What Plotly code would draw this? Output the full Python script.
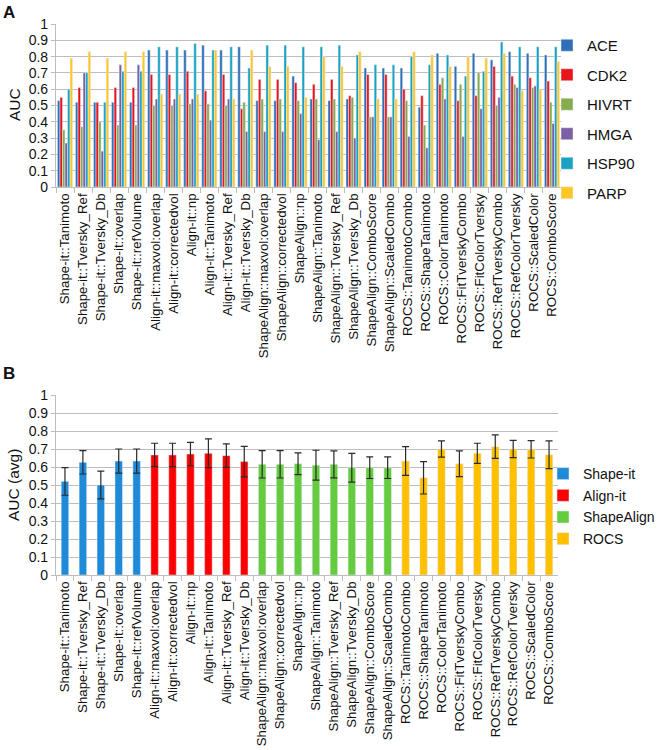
import plotly.graph_objects as go

# Methods grouped by program family
shape_it = ["Shape-it::Tanimoto", "Shape-it::Tversky_Ref", "Shape-it::Tversky_Db",
            "Shape-it::overlap", "Shape-it::refVolume"]
align_it = ["Align-it::maxvol:overlap", "Align-it::correctedvol", "Align-it::np",
            "Align-it::Tanimoto", "Align-it::Tversky_Ref", "Align-it::Tversky_Db"]
shape_align = ["ShapeAlign::maxvol:overlap", "ShapeAlign::correctedvol", "ShapeAlign::np",
               "ShapeAlign::Tanimoto", "ShapeAlign::Tversky_Ref", "ShapeAlign::Tversky_Db",
               "ShapeAlign::ComboScore", "ShapeAlign::ScaledCombo"]
rocs = ["ROCS::TanimotoCombo", "ROCS::ShapeTanimoto", "ROCS::ColorTanimoto",
        "ROCS::FitTverskyCombo", "ROCS::FitColorTversky", "ROCS::RefTverskyCombo",
        "ROCS::RefColorTversky", "ROCS::ScaledColor", "ROCS::ComboScore"]
methods = shape_it + align_it + shape_align + rocs

# Panel A: AUC per target
ace = [0.53, 0.52, 0.52, 0.52, 0.52, 0.84, 0.84, 0.84, 0.87, 0.84, 0.86,
       0.53, 0.53, 0.68, 0.54, 0.53, 0.54, 0.73, 0.73,
       0.73, 0.49, 0.82, 0.74, 0.82, 0.78, 0.83, 0.82, 0.81]
cdk2 = [0.55, 0.61, 0.52, 0.61, 0.61, 0.69, 0.69, 0.71, 0.59, 0.69, 0.48,
        0.66, 0.66, 0.64, 0.63, 0.66, 0.56, 0.69, 0.69,
        0.60, 0.56, 0.63, 0.53, 0.56, 0.74, 0.68, 0.67, 0.65]
hivrt = [0.35, 0.37, 0.40, 0.38, 0.38, 0.50, 0.50, 0.51, 0.51, 0.50, 0.52,
         0.54, 0.54, 0.53, 0.54, 0.54, 0.55, 0.43, 0.43,
         0.53, 0.38, 0.67, 0.63, 0.70, 0.50, 0.63, 0.61, 0.52]
hmga = [0.27, 0.70, 0.22, 0.75, 0.75, 0.54, 0.54, 0.54, 0.41, 0.54, 0.34,
        0.34, 0.34, 0.45, 0.29, 0.34, 0.30, 0.43, 0.43,
        0.31, 0.24, 0.54, 0.31, 0.48, 0.55, 0.61, 0.62, 0.39]
hsp90 = [0.60, 0.70, 0.52, 0.71, 0.71, 0.86, 0.86, 0.88, 0.84, 0.86, 0.73,
         0.87, 0.87, 0.86, 0.86, 0.87, 0.81, 0.75, 0.75,
         0.80, 0.75, 0.81, 0.68, 0.71, 0.89, 0.86, 0.86, 0.86]
parp = [0.79, 0.83, 0.79, 0.83, 0.83, 0.57, 0.57, 0.57, 0.84, 0.54, 0.84,
        0.74, 0.74, 0.55, 0.80, 0.74, 0.83, 0.54, 0.54,
        0.83, 0.81, 0.74, 0.80, 0.79, 0.82, 0.59, 0.60, 0.77]

# Panel B: average AUC and error
avg_auc = [0.52, 0.626, 0.50, 0.633, 0.633,
           0.667, 0.667, 0.672, 0.676, 0.663, 0.63,
           0.615, 0.615, 0.618, 0.61, 0.615, 0.596, 0.596, 0.596,
           0.633, 0.54, 0.70, 0.618, 0.676, 0.713, 0.70, 0.698, 0.668]
avg_err = [0.077, 0.065, 0.077, 0.067, 0.067,
           0.065, 0.065, 0.065, 0.08, 0.065, 0.085,
           0.076, 0.076, 0.06, 0.083, 0.075, 0.08, 0.06, 0.06,
           0.08, 0.09, 0.045, 0.072, 0.056, 0.065, 0.048, 0.048, 0.077]

FONT = "Liberation Sans, Arial, sans-serif"
GRID = "#BDBDBD"

W, H = 659, 750


def px_x(p):
    return p / W


def px_y(p):
    return 1 - p / H


targets = [("ACE", ace, "#2E6FB7"), ("CDK2", cdk2, "#E8161C"),
           ("HIVRT", hivrt, "#86AC4E"), ("HMGA", hmga, "#7D5FA6"),
           ("HSP90", hsp90, "#17A3C1"), ("PARP", parp, "#FFC726")]

families = [("Shape-it", shape_it, "#1F8AD8"), ("Align-it", align_it, "#FF0000"),
            ("ShapeAlign", shape_align, "#66CC3F"), ("ROCS", rocs, "#FFC000")]

fig = go.Figure()

for name, vals, col in targets:
    fig.add_trace(go.Bar(x=methods, y=vals, name=name, marker_color=col,
                         xaxis="x", yaxis="y", legend="legend",
                         legendgroup=name))

start = 0
for name, ms, col in families:
    n = len(ms)
    fig.add_trace(go.Bar(
        x=ms, y=avg_auc[start:start + n], name=name, marker_color=col,
        xaxis="x2", yaxis="y2", legend="legend2", legendgroup=name,
        offsetgroup="avg", width=0.42,
        error_y=dict(type="data", array=avg_err[start:start + n],
                     color="#2a2a2a", thickness=1.2, width=3.5),
    ))
    start += n

xcommon = dict(type="category", categoryorder="array", categoryarray=methods,
               tickangle=-90, tickfont=dict(size=13.3, color="#111"),
               showline=True, linecolor=GRID, linewidth=1.2,
               ticks="outside", tickson="boundaries", tickcolor=GRID, ticklen=5,
               showgrid=False, automargin=False)
ycommon = dict(range=[0, 1], dtick=0.1, tickfont=dict(size=14, color="#111"),
               showgrid=True, gridcolor=GRID, gridwidth=1.2,
               showline=True, linecolor=GRID, linewidth=1.2,
               ticks="outside", tickcolor=GRID, ticklen=4, zeroline=False,
               automargin=False)

fig.update_layout(
    width=W, height=H,
    margin=dict(l=0, r=0, t=0, b=0, autoexpand=False),
    paper_bgcolor="white", plot_bgcolor="white",
    font=dict(family=FONT, color="#111"),
    barmode="group", bargap=0.16, bargroupgap=0,
    xaxis=dict(domain=[px_x(56), px_x(561)], anchor="y", **xcommon),
    yaxis=dict(domain=[px_y(187), px_y(24)], anchor="x", **ycommon),
    xaxis2=dict(domain=[px_x(56), px_x(558)], anchor="y2", **xcommon),
    yaxis2=dict(domain=[px_y(575), px_y(395)], anchor="x2", **ycommon),
    legend=dict(x=px_x(547), y=px_y(29), xanchor="left", yanchor="top",
                font=dict(size=15, color="#111"), traceorder="grouped",
                tracegroupgap=7, itemwidth=30, bgcolor="rgba(0,0,0,0)"),
    legend2=dict(x=px_x(543), y=px_y(458), xanchor="left", yanchor="top",
                 font=dict(size=14, color="#111"), traceorder="grouped",
                 tracegroupgap=0.5, itemwidth=30, bgcolor="rgba(0,0,0,0)"),
    showlegend=True,
)

annots = [
    dict(text="<b>A</b>", x=px_x(9), y=px_y(12), font=dict(size=17)),
    dict(text="<b>B</b>", x=px_x(9), y=px_y(374), font=dict(size=17)),
    dict(text="AUC", x=px_x(14), y=px_y(105), textangle=-90, font=dict(size=15.5)),
    dict(text="AUC (avg)", x=px_x(14), y=px_y(485), textangle=-90, font=dict(size=15.5)),
]
for a in annots:
    fig.add_annotation(xref="paper", yref="paper", showarrow=False,
                       xanchor="center", yanchor="middle", **a)

# drop the browser's default body margin so the figure sits at the page corner
fig.write_html("out.html", config={"displayModeBar": False},
               post_script="document.body.style.margin='0';")
